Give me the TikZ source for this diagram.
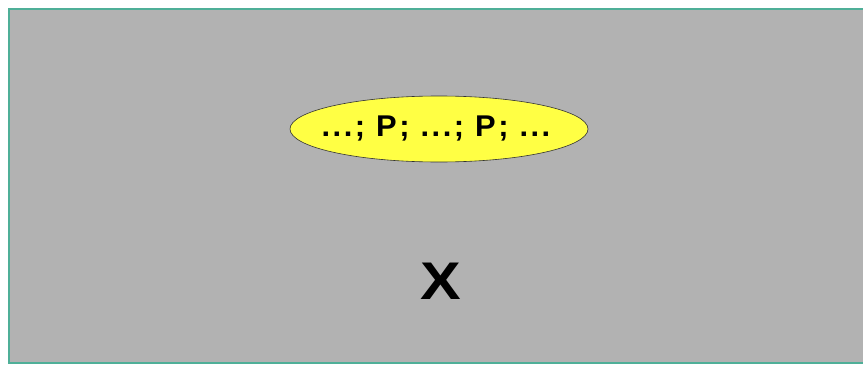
\documentclass[tikz,border=0pt]{standalone}
\usepackage{fontspec}
\setmainfont{Liberation Sans}
\usetikzlibrary{shapes.geometric}
\definecolor{bggray}{HTML}{B2B2B2}
\definecolor{frameteal}{HTML}{4FAF98}
\definecolor{ellyellow}{HTML}{FFFF44}
\tikzset{
  panel/.style={fill=bggray, draw=frameteal, line width=1.2pt},
  bubble/.style={ellipse, fill=ellyellow, draw=black!80, line width=0.6pt,
    minimum width=298pt, minimum height=66pt, inner sep=0pt},
  plain/.style={inner sep=0pt}
}
\begin{document}
\begin{tikzpicture}[x=1pt,y=-1pt]
\useasboundingbox (0,0) rectangle (863,367);
\clip (0,0) rectangle (863,367);
\fill[white] (0,0) rectangle (863,367);
\draw[panel] (9,9) rectangle (880,363);
\node[bubble] (seq) at (439,129) {};
\node[plain] (seqtext) at (436,128) {\scalebox{1.03}[1]{\fontsize{30}{30}\selectfont\bfseries\addfontfeature{LetterSpace=8}...; P; ...; P; ...}};
\node[plain] (x) at (441,281) {\scalebox{1.15}[1]{\fontsize{53}{53}\selectfont\bfseries X}};
\end{tikzpicture}
\end{document}
